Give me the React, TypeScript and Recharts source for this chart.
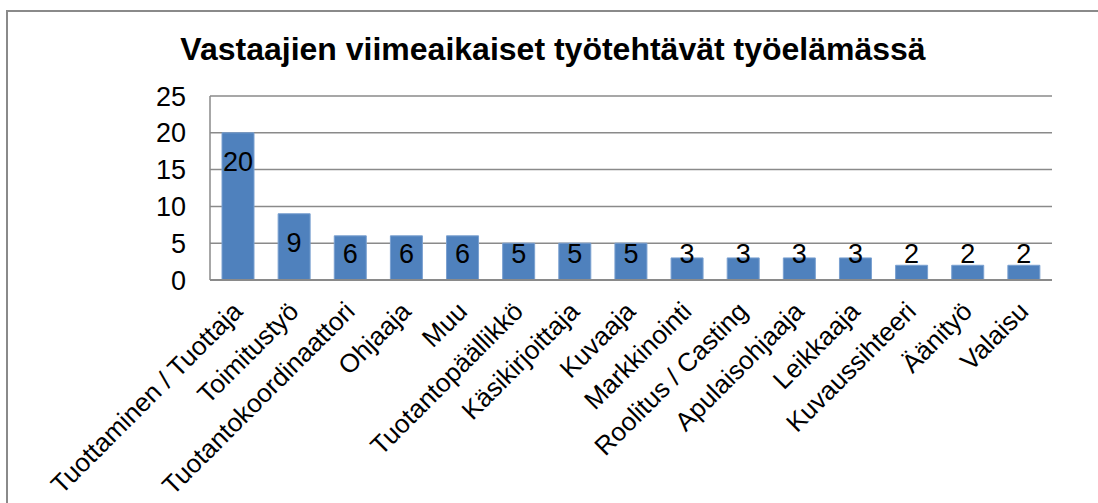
import React from "react";
import { BarChart, Bar, XAxis, YAxis, CartesianGrid, LabelList } from "recharts";

// Tehtävät ja vastaajien määrät
const categories = [
  "Tuottaminen / Tuottaja",
  "Toimitustyö",
  "Tuotantokoordinaattori",
  "Ohjaaja",
  "Muu",
  "Tuotantopäällikkö",
  "Käsikirjoittaja",
  "Kuvaaja",
  "Markkinointi",
  "Roolitus / Casting",
  "Apulaisohjaaja",
  "Leikkaaja",
  "Kuvaussihteeri",
  "Äänityö",
  "Valaisu",
];
const counts = [20, 9, 6, 6, 6, 5, 5, 5, 3, 3, 3, 3, 2, 2, 2];
const yTicks = [0, 5, 10, 15, 20, 25];

const data = categories.map((name, i) => ({ name, value: counts[i] }));

const FONT = "'Liberation Sans', Arial, sans-serif";

function XTick(props: any) {
  const { x, y, payload } = props;
  return (
    <g transform={`translate(${x + 6},${y + 25})`}>
      <text
        transform="rotate(-45)"
        textAnchor="end"
        fontSize={26}
        fontFamily={FONT}
        fill="#000"
      >
        {payload.value}
      </text>
    </g>
  );
}

// label inside the bar near the top, but never lower than near the axis
function ValueLabel(props: any) {
  const { x, y, width, height, value } = props;
  const cy = Math.min(y + 29, y + height - 26);
  return (
    <text
      x={x + width / 2}
      y={cy}
      textAnchor="middle"
      dominantBaseline="central"
      fontSize={27}
      fontFamily={FONT}
      fill="#000"
    >
      {value}
    </text>
  );
}

export default function App() {
  return (
    <div
      style={{
        position: "absolute",
        left: 0,
        top: 0,
        width: 1098,
        height: 503,
        background: "#fff",
        overflow: "hidden",
        fontFamily: FONT,
      }}
    >
      <div
        style={{
          position: "absolute",
          left: 6,
          top: 10,
          width: 1110,
          height: 520,
          border: "2px solid #8a8a8a",
        }}
      />
      <div
        style={{
          position: "absolute",
          left: 0,
          top: 29,
          width: 1106,
          textAlign: "center",
          fontWeight: "bold",
          fontSize: 32,
          lineHeight: "40px",
          color: "#000",
        }}
      >
        Vastaajien viimeaikaiset työtehtävät työelämässä
      </div>
      <div style={{ position: "absolute", left: 0, top: 0 }}>
        <BarChart
          width={1098}
          height={503}
          data={data}
          margin={{ top: 96, right: 46, bottom: 23, left: 150 }}
        >
          <CartesianGrid
            vertical={false}
            stroke="#8a8a8a"
            strokeWidth={1.5}
          />
          <XAxis
            dataKey="name"
            interval={0}
            height={200}
            tickLine={false}
            axisLine={{ stroke: "#8a8a8a", strokeWidth: 2 }}
            tick={<XTick />}
          />
          <YAxis
            domain={[0, 25]}
            ticks={yTicks}
            width={60}
            tickLine={false}
            tickSize={0}
            tickMargin={24}
            axisLine={{ stroke: "#8a8a8a", strokeWidth: 1.5 }}
            tick={{ fill: "#000", fontSize: 27, fontFamily: FONT }}
          />
          <Bar
            dataKey="value"
            fill="#4f81bd"
            stroke="#7aa0d0"
            strokeWidth={1}
            barSize={32}
            isAnimationActive={false}
          >
            <LabelList dataKey="value" content={<ValueLabel />} />
          </Bar>
        </BarChart>
      </div>
    </div>
  );
}
